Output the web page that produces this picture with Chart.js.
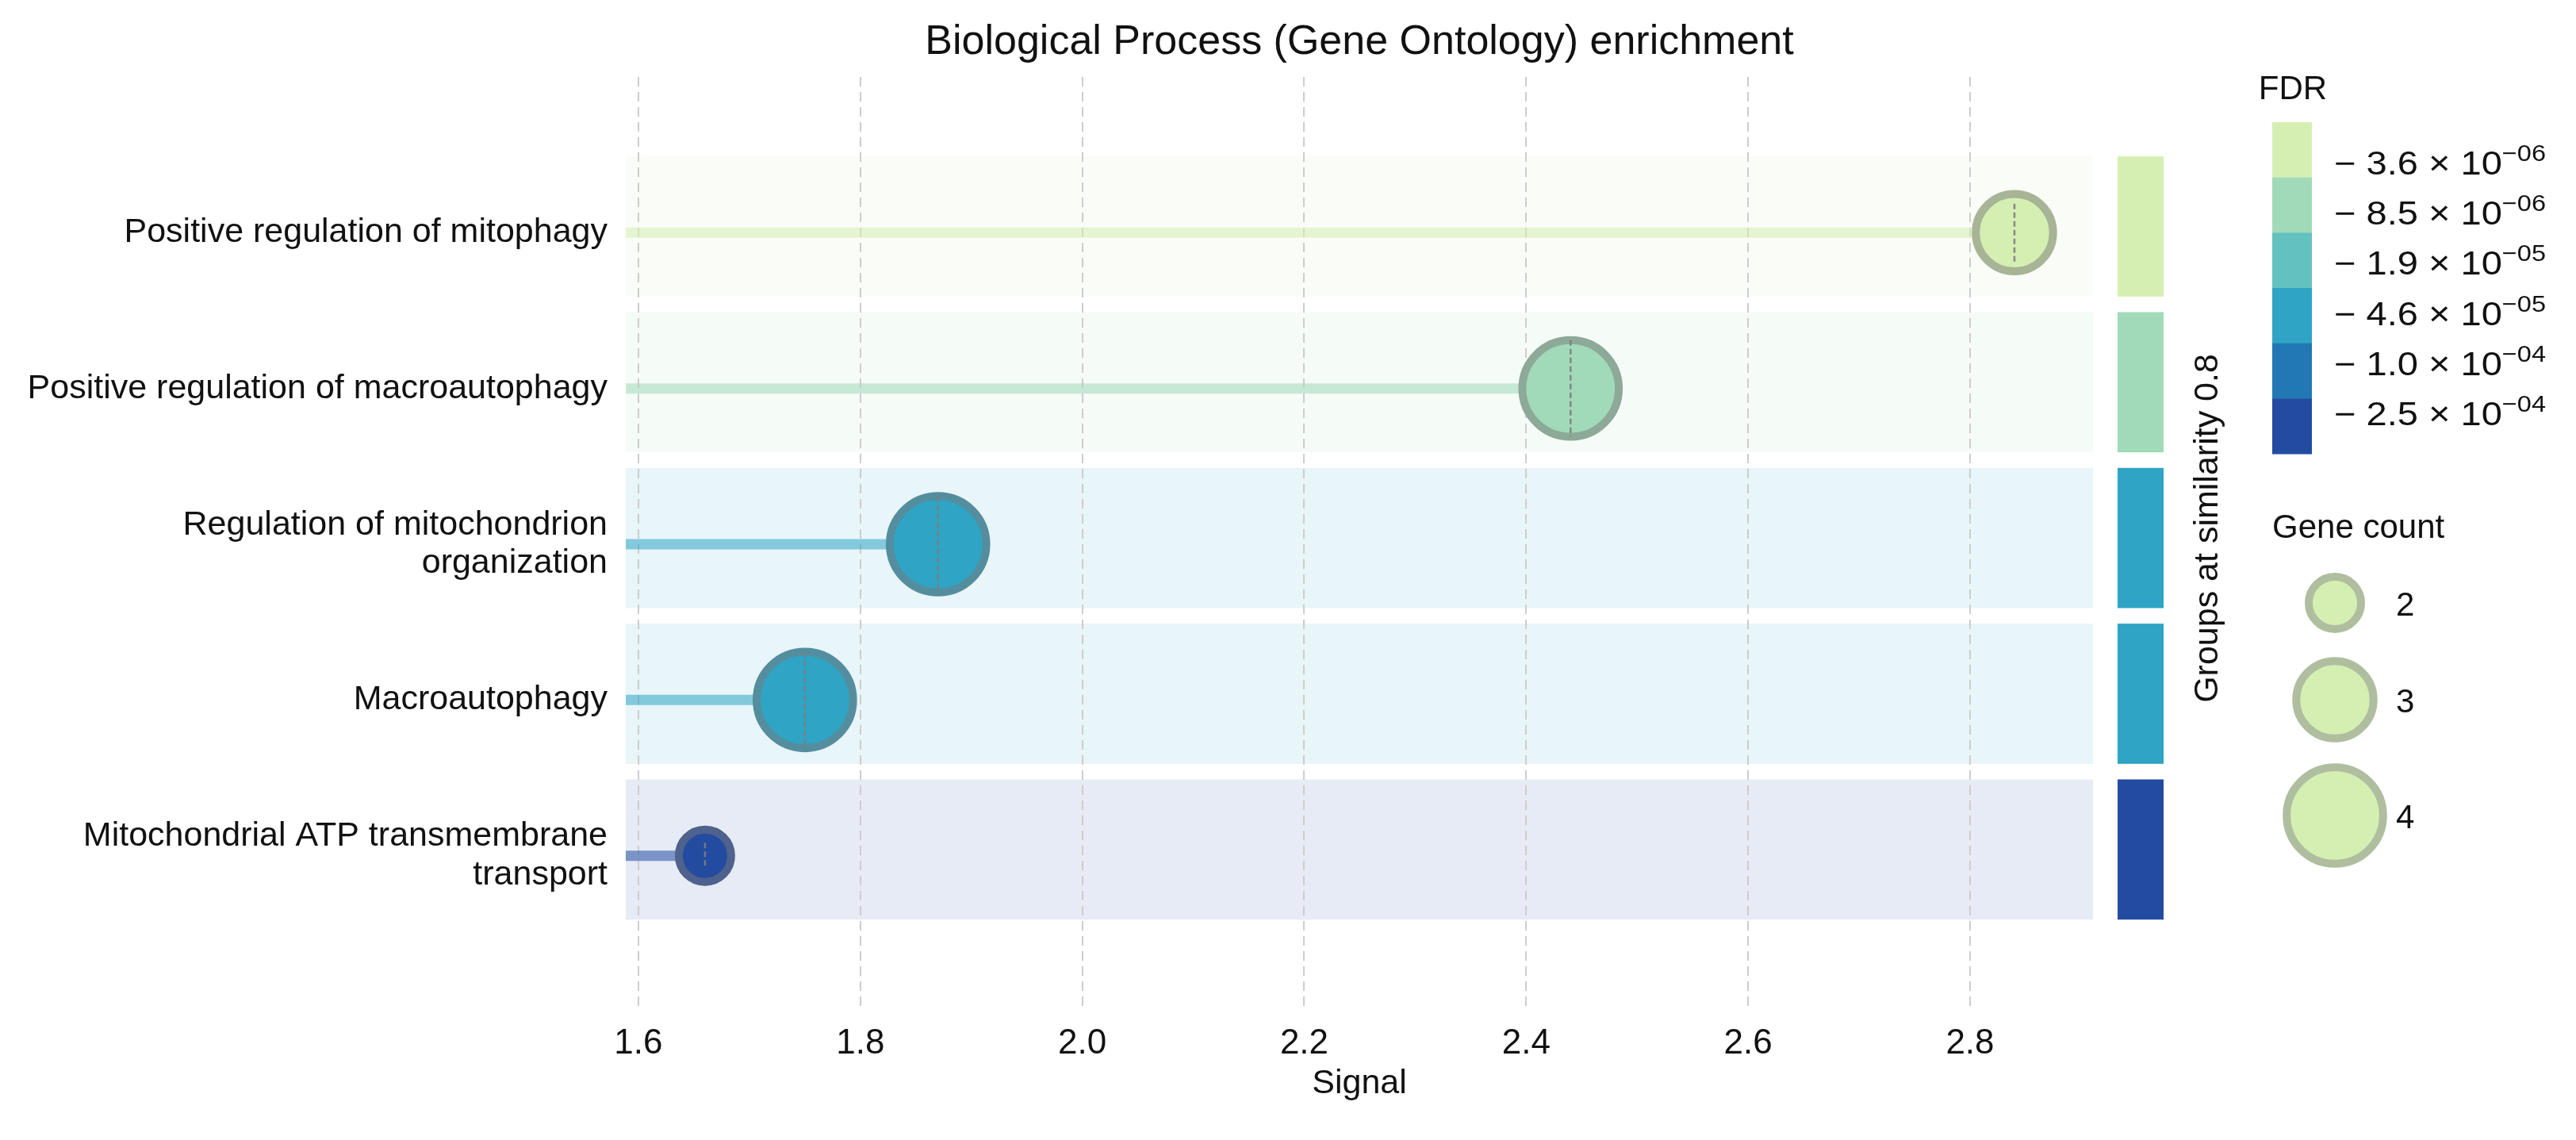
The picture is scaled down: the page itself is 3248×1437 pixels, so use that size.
<!DOCTYPE html>
<html>
<head>
<meta charset="utf-8">
<script src="https://cdn.jsdelivr.net/npm/chart.js@4.4.1/dist/chart.umd.min.js"></script>
<style>
  html, body { margin: 0; padding: 0; background: #ffffff; }
  canvas { display: block; }
</style>
</head>
<body>
<canvas id="c" width="3248" height="1437" style="width:3248px;height:1437px"></canvas>
<script>
// ---------------- data ----------------
const CATEGORIES = [
  'Positive regulation of mitophagy',
  'Positive regulation of macroautophagy',
  'Regulation of mitochondrion\norganization',
  'Macroautophagy',
  'Mitochondrial ATP transmembrane\ntransport'
];
const SIGNAL = [2.84, 2.44, 1.87, 1.75, 1.66];
const GENE_COUNT = [3, 4, 4, 4, 2];
const FDR = [3.6e-6, 8.5e-6, 4.6e-5, 4.6e-5, 2.5e-4];
const X_TICKS = [1.6, 1.8, 2.0, 2.2, 2.4, 2.6, 2.8];
const FDR_BINS = [3.6e-6, 8.5e-6, 1.9e-5, 4.6e-5, 1.0e-4, 2.5e-4];
const GENE_COUNT_LEGEND = [2, 3, 4];
const X_MIN = 1.5886, X_MAX = 2.9108;

// ---------------- styles ----------------
const FONT = "'Liberation Sans', Arial, Helvetica, sans-serif";
const PALETTE = ['#d5efb3', '#a1dab8', '#63c1bf', '#2fa4c4', '#2178b4', '#234ca1'];
const BORDER_W = 10;

function hexRgb(h) { h = h.replace('#', ''); return [0, 2, 4].map(i => parseInt(h.substr(i, 2), 16)); }
function rgba(h, a) { const c = hexRgb(h); return `rgba(${c[0]},${c[1]},${c[2]},${a})`; }
function mixWhite(h, a) { const c = hexRgb(h).map(v => Math.round(255 - a * (255 - v))); return `rgb(${c.join(',')})`; }
function borderOf(h) { const c = hexRgb(h).map(v => Math.round(v * 0.5 + 60)); return `rgb(${c.join(',')})`; }
function colorOfFdr(v) {
  let best = 0, bd = Infinity;
  FDR_BINS.forEach((b, i) => { const d = Math.abs(Math.log(b) - Math.log(v)); if (d < bd) { bd = d; best = i; } });
  return PALETTE[best];
}
function outerR(c) { return 38 * Math.sqrt(c - 1); }
function pathR(c) { return outerR(c) - BORDER_W / 2; }

const ROW_COLORS = FDR.map(colorOfFdr);

Chart.defaults.font.family = FONT;
Chart.defaults.color = '#111';

// ---------------- datasets ----------------
const lineSets = SIGNAL.map((s, i) => ({
  type: 'line',
  data: [{ x: X_MIN, y: i }, { x: s, y: i }],
  borderColor: rgba(ROW_COLORS[i], 0.55),
  borderWidth: 13,
  borderCapStyle: 'butt',
  pointRadius: 0,
  order: 2
}));
const bubbleSet = {
  type: 'bubble',
  data: SIGNAL.map((s, i) => ({ x: s, y: i, r: pathR(GENE_COUNT[i]) })),
  backgroundColor: ROW_COLORS,
  borderColor: ROW_COLORS.map(borderOf),
  borderWidth: BORDER_W,
  hoverRadius: 0,
  order: 0
};

// ---------------- plugins ----------------
const bandsPlugin = {
  id: 'bands',
  beforeDraw(chart) {
    const { ctx, chartArea, scales: { y } } = chart;
    ctx.save();
    CATEGORIES.forEach((_, i) => {
      const top = y.getPixelForValue(i - 0.49);
      const bot = y.getPixelForValue(i + 0.41);
      ctx.fillStyle = mixWhite(ROW_COLORS[i], 0.11);
      ctx.fillRect(chartArea.left, top, chartArea.right - chartArea.left, bot - top);
      ctx.fillStyle = ROW_COLORS[i];
      ctx.fillRect(chartArea.right + 31, top, 58, bot - top);
    });
    ctx.restore();
  }
};

const centerDashPlugin = {
  id: 'centerDash',
  afterDatasetsDraw(chart) {
    const { ctx } = chart;
    const meta = chart.getDatasetMeta(chart.data.datasets.length - 1);
    ctx.save();
    ctx.strokeStyle = 'rgba(125,125,125,0.9)';
    ctx.lineWidth = 2.5;
    ctx.setLineDash([7, 4]);
    meta.data.forEach((el, i) => {
      const h = pathR(GENE_COUNT[i]) * 0.25 * GENE_COUNT[i];
      ctx.beginPath();
      ctx.moveTo(el.x, el.y - h);
      ctx.lineTo(el.x, el.y + h);
      ctx.stroke();
    });
    ctx.restore();
  }
};

const annotPlugin = {
  id: 'annot',
  afterDraw(chart) {
    const { ctx, chartArea } = chart;
    ctx.save();
    ctx.fillStyle = '#111';
    // title
    ctx.font = `52px ${FONT}`;
    ctx.textAlign = 'center';
    ctx.textBaseline = 'alphabetic';
    ctx.fillText('Biological Process (Gene Ontology) enrichment', (chartArea.left + chartArea.right) / 2, 68);

    // rotated group label
    ctx.save();
    ctx.translate(2796, 666);
    ctx.rotate(-Math.PI / 2);
    ctx.font = `43px ${FONT}`;
    ctx.textAlign = 'center';
    ctx.textBaseline = 'alphabetic';
    ctx.fillText('Groups at similarity 0.8', 0, 0);
    ctx.restore();

    // FDR legend
    ctx.font = `42px ${FONT}`;
    ctx.textAlign = 'center';
    ctx.fillText('FDR', 2891, 125);
    const cbTop = 154, cbBot = 572, cbL = 2865, cbW = 50;
    const bh = (cbBot - cbTop) / PALETTE.length;
    PALETTE.forEach((c, i) => {
      ctx.fillStyle = c;
      ctx.fillRect(cbL, cbTop + i * bh, cbW, bh + 0.5);
    });
    ctx.fillStyle = '#111';
    ctx.textAlign = 'left';
    FDR_BINS.forEach((v, i) => {
      const e = Math.floor(Math.log10(v) + 1e-9);
      const m = (v / Math.pow(10, e)).toFixed(1);
      const sup = '\u2212' + String(-e).padStart(2, '0');
      const base = 220 + 63.2 * i;
      ctx.save();
      ctx.translate(2943, base);
      ctx.scale(1.12, 1);
      ctx.font = `42px ${FONT}`;
      const main = '\u2212 ' + m + ' \u00d7 10';
      ctx.fillText(main, 0, 0);
      const w = ctx.measureText(main).width;
      ctx.font = `29px ${FONT}`;
      ctx.fillText(sup, w, -17);
      ctx.restore();
    });

    // Gene count legend
    ctx.font = `42px ${FONT}`;
    ctx.textAlign = 'left';
    ctx.fillText('Gene count', 2865, 678);
    const cy = [760, 882, 1028];
    GENE_COUNT_LEGEND.forEach((g, i) => {
      ctx.beginPath();
      ctx.arc(2944, cy[i], pathR(g), 0, Math.PI * 2);
      ctx.fillStyle = PALETTE[0];
      ctx.fill();
      ctx.lineWidth = BORDER_W;
      ctx.strokeStyle = '#b0bea0';
      ctx.stroke();
      ctx.fillStyle = '#111';
      ctx.fillText(String(g), 3021, cy[i] + 16);
    });
    ctx.restore();
  }
};

// ---------------- chart ----------------
new Chart(document.getElementById('c'), {
  data: { datasets: [...lineSets, bubbleSet] },
  options: {
    responsive: false,
    animation: false,
    devicePixelRatio: 1,
    events: [],
    layout: { padding: { left: 0, right: 609, top: 97, bottom: 0 } },
    plugins: { legend: { display: false }, tooltip: { enabled: false }, title: { display: false } },
    scales: {
      x: {
        type: 'linear',
        min: X_MIN,
        max: X_MAX,
        afterBuildTicks: s => { s.ticks = X_TICKS.map(v => ({ value: v })); },
        afterFit: s => { s.height = 162; },
        grid: { color: '#cdcdcd', lineWidth: 2, drawTicks: false },
        border: { display: false, dash: [12, 7] },
        ticks: { font: { size: 44 }, color: '#111', padding: 14, callback: v => v.toFixed(1), autoSkip: false, maxRotation: 0 },
        title: { display: true, text: 'Signal', font: { size: 43 }, color: '#111', padding: { top: 0, bottom: 45 } }
      },
      y: {
        type: 'linear',
        min: -1,
        max: 5,
        reverse: true,
        afterBuildTicks: s => { s.ticks = CATEGORIES.map((_, i) => ({ value: i })); },
        afterFit: s => { s.width = 789; },
        grid: { display: false },
        border: { display: false },
        ticks: {
          font: { size: 43, lineHeight: 1.12 },
          color: '#111',
          padding: 15,
          autoSkip: false,
          callback: v => (CATEGORIES[v] !== undefined ? CATEGORIES[v].split('\n') : '')
        }
      }
    }
  },
  plugins: [bandsPlugin, centerDashPlugin, annotPlugin]
});
</script>
</body>
</html>
